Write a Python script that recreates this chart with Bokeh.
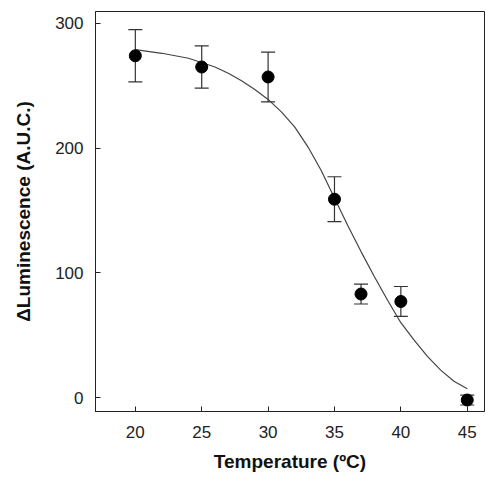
from bokeh.plotting import figure
from bokeh.models import ColumnDataSource, Whisker, TeeHead, FixedTicker, Range1d
from bokeh.embed import file_html
from bokeh.resources import INLINE

# Data
temperature = [20, 25, 30, 35, 37, 40, 45]
luminescence = [274, 265, 257, 159, 83, 77, -2]
error = [21, 17, 20, 18, 8, 12, 4]

curve_x = [20, 22, 24, 26, 27, 28, 29, 30, 31, 32, 33, 34, 35, 36, 37, 38, 39, 40, 41, 42, 43, 44, 45]
curve_y = [279, 276, 272, 265, 260, 254, 247, 239, 229, 217, 201, 182, 160, 138, 117, 97, 78, 60, 46, 33, 22, 13, 7]

x_ticks = [20, 25, 30, 35, 40, 45]
y_ticks = [0, 100, 200, 300]

FONT = "Liberation Sans"

p = figure(width=485, height=477, output_backend="svg", toolbar_location=None,
           x_range=Range1d(17, 46.3), y_range=Range1d(-11.2, 309.5),
           min_border_left=95, min_border_right=1, min_border_top=11, min_border_bottom=66)
p.background_fill_color = "white"
p.border_fill_color = "white"
p.outline_line_color = "#222222"
p.outline_line_width = 1
p.grid.visible = False

src = ColumnDataSource(dict(
    x=temperature, y=luminescence,
    upper=[v + e for v, e in zip(luminescence, error)],
    lower=[v - e for v, e in zip(luminescence, error)],
))

p.line(curve_x, curve_y, line_color="#444444", line_width=1.2)

w = Whisker(source=src, base="x", upper="upper", lower="lower", dimension="height",
            line_color="#333333", line_width=1.2,
            upper_head=TeeHead(size=14, line_color="#333333", line_width=1.2),
            lower_head=TeeHead(size=14, line_color="#333333", line_width=1.2))
p.add_layout(w)

p.scatter("x", "y", source=src, size=12, fill_color="black", line_color="black")

for ax in (p.xaxis[0], p.yaxis[0]):
    ax.axis_line_color = "#222222"
    ax.major_tick_in = 5
    ax.major_tick_out = 0
    ax.minor_tick_in = 0
    ax.minor_tick_out = 0
    ax.major_tick_line_color = "#222222"
    ax.major_label_text_font = FONT
    ax.major_label_text_font_size = "17px"
    ax.major_label_text_color = "#222222"
    ax.axis_label_text_font = FONT
    ax.axis_label_text_font_style = "bold"
    ax.axis_label_text_font_size = "19px"
    ax.axis_label_text_color = "#111111"

p.xaxis.ticker = FixedTicker(ticks=x_ticks)
p.yaxis.ticker = FixedTicker(ticks=y_ticks)
p.xaxis.axis_label = "Temperature (ºC)"
p.yaxis.axis_label = "ΔLuminescence (A.U.C.)"
p.xaxis.major_label_standoff = 14
p.xaxis.axis_label_standoff = 10
p.yaxis.major_label_standoff = 12
p.yaxis.axis_label_standoff = 18

open("out.html", "w").write(file_html(p, INLINE))
